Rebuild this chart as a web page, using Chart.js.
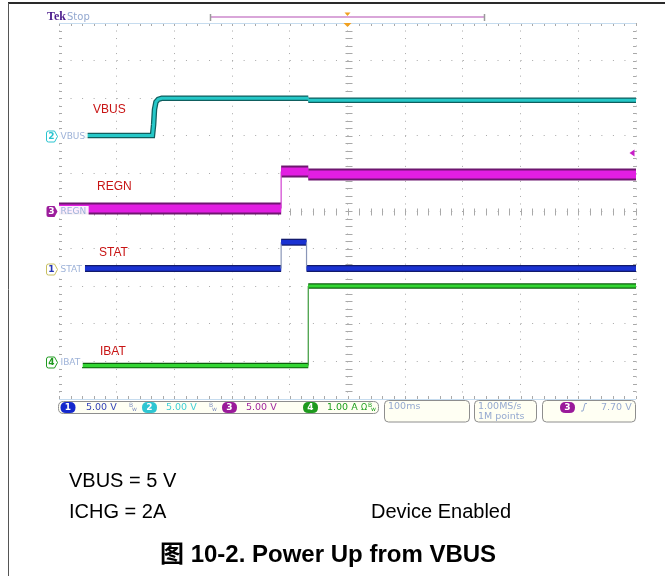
<!DOCTYPE html>
<html><head><meta charset="utf-8">
<script src="https://cdn.jsdelivr.net/npm/chart.js@4/dist/chart.umd.min.js"></script>
<style>html,body{margin:0;padding:0;background:#fff}canvas{display:block}</style>
</head><body>
<canvas id="c" width="665" height="576"></canvas>
<script>
// ---- axes: 100 ms/div time base (trigger at centre), 10 vertical divisions
const timeTicks = [-500, -400, -300, -200, -100, 0, 100, 200, 300, 400, 500];
const divTicks = [0, 1, 2, 3, 4, 5, 6, 7, 8, 9, 10];

// ---- CH2 VBUS (V)
const vbusT = [-455, -338, -336, -334.5, -332, -328, -322, -68, -68, 500];
const vbusV = [0.05, 0.05, 1.5, 3.5, 4.5, 4.85, 4.98, 4.98, 4.72, 4.72];
// ---- CH3 REGN (V)
const regnT = [-500, -115, -115, -68, -68, 500];
const regnV = [0.33, 0.33, 5.25, 5.25, 4.85, 4.85];
// ---- CH1 STAT (V)
const statT = [-455, -115, -115, -71, -71, 500];
const statV = [0, 0, 3.5, 3.5, 0, 0];
// ---- CH4 IBAT (A)
const ibatT = [-460, -68, -68, 500];
const ibatA = [-0.085, -0.085, 2.03, 2.03];

// channel settings (scale per division and ground position in divisions)
const chVoltsPerDiv = { y1: 5, y2: 5, y3: 5, y4: 1 };
const chGroundDiv = { y1: 3.47, y2: 7, y3: 5, y4: 0.975 };
const trigLevel = 7.70; // CH3 trigger level (V)

const isVert = c => c.p0.parsed.x === c.p1.parsed.x;
function trace(t, v, axis, outline, core, wOut, wCore, edge, ord) {
  const mk = () => t.map((x, i) => ({ x, y: v[i] }));
  const common = { yAxisID: axis, pointRadius: 0, tension: 0, borderCapStyle: 'butt', borderJoinStyle: 'miter' };
  return [
    Object.assign({}, common, { data: mk(), order: 20 + ord, borderColor: outline, borderWidth: wOut,
      segment: { borderColor: c => isVert(c) ? 'rgba(0,0,0,0)' : outline, borderWidth: c => isVert(c) ? 1 : wOut } }),
    Object.assign({}, common, { data: mk(), order: ord, borderColor: core, borderWidth: wCore,
      segment: { borderColor: c => isVert(c) ? edge : core, borderWidth: c => isVert(c) ? 1.2 : wCore } })
  ];
}
function chScale(id) {
  const g = chGroundDiv[id], s = chVoltsPerDiv[id];
  return { type: 'linear', display: false, min: -g * s, max: (10 - g) * s };
}

const datasets = [].concat(
  trace(regnT, regnV, 'y3', '#6e1670', '#e21ee2', 12, 8, '#d040d0', 1),
  trace(vbusT, vbusV, 'y2', '#0f5e5e', '#25c8c8', 5.5, 3, '#25c8c8', 2),
  trace(statT, statV, 'y1', '#121a6a', '#1a32d2', 7, 4.5, '#8a96b8', 3),
  trace(ibatT, ibatA, 'y4', '#0c600c', '#33d633', 5.5, 3.2, '#3a9a3a', 4)
);

function rr(ctx, x, y, w, h, r) {
  ctx.beginPath();
  ctx.moveTo(x + r, y); ctx.lineTo(x + w - r, y); ctx.quadraticCurveTo(x + w, y, x + w, y + r);
  ctx.lineTo(x + w, y + h - r); ctx.quadraticCurveTo(x + w, y + h, x + w - r, y + h);
  ctx.lineTo(x + r, y + h); ctx.quadraticCurveTo(x, y + h, x, y + h - r);
  ctx.lineTo(x, y + r); ctx.quadraticCurveTo(x, y, x + r, y); ctx.closePath();
}
function marker(ctx, x, y, num, filled, color, border) {
  ctx.beginPath();
  ctx.moveTo(x + 2, y - 5.5); ctx.lineTo(x + 8, y - 5.5); ctx.lineTo(x + 11, y); ctx.lineTo(x + 8, y + 5.5);
  ctx.lineTo(x + 2, y + 5.5); ctx.quadraticCurveTo(x, y + 5.5, x, y + 3.5); ctx.lineTo(x, y - 3.5);
  ctx.quadraticCurveTo(x, y - 5.5, x + 2, y - 5.5); ctx.closePath();
  ctx.lineWidth = 1;
  if (filled) { ctx.fillStyle = color; ctx.fill(); }
  else { ctx.fillStyle = '#fff'; ctx.fill(); ctx.strokeStyle = border || color; ctx.stroke(); }
  ctx.fillStyle = filled ? '#fff' : color;
  ctx.font = 'bold 9px "DejaVu Sans"'; ctx.textAlign = 'center'; ctx.textBaseline = 'middle';
  ctx.fillText(num, x + 5, y + 0.5);
}
function capsule(ctx, cx, cy, num, color) {
  rr(ctx, cx - 7.5, cy - 5.5, 15, 11, 5.5); ctx.fillStyle = color; ctx.fill();
  ctx.fillStyle = '#fff'; ctx.font = 'bold 9px "DejaVu Sans"'; ctx.textAlign = 'center'; ctx.textBaseline = 'middle';
  ctx.fillText(num, cx, cy + 0.5);
}
function bw(ctx, x, y, color) {
  ctx.fillStyle = color; ctx.textAlign = 'left'; ctx.textBaseline = 'middle';
  ctx.font = '6px "DejaVu Sans"'; ctx.fillText('B', x, y - 2); ctx.fillText('w', x + 3, y + 2);
}

const gratPlugin = {
  id: 'grat',
  beforeDraw(chart) {
    const ctx = chart.ctx; ctx.save(); ctx.fillStyle = '#fff'; ctx.fillRect(0, 0, chart.width, chart.height); ctx.restore();
  },
  beforeDatasetsDraw(chart) {
    const ctx = chart.ctx, xs = chart.scales.x, ds = chart.scales.div, a = chart.chartArea;
    ctx.save();
    ctx.strokeStyle = '#a9a9a9'; ctx.lineWidth = 1;
    const x0 = Math.round(xs.getPixelForValue(0)) + 0.5, y5 = Math.round(ds.getPixelForValue(5)) + 0.5;
    ctx.beginPath();
    for (let d = 0; d <= 10.001; d += 0.2) {
      const y = Math.round(ds.getPixelForValue(d)) + 0.5;
      ctx.moveTo(x0 - 3, y); ctx.lineTo(x0 + 4, y);
      ctx.moveTo(a.left, y); ctx.lineTo(a.left + 3, y);
      ctx.moveTo(a.right - 3, y); ctx.lineTo(a.right, y);
    }
    for (let t = -500; t <= 500.001; t += 20) {
      const x = Math.round(xs.getPixelForValue(t)) + 0.5;
      ctx.moveTo(x, y5 - 3); ctx.lineTo(x, y5 + 4);
      ctx.moveTo(x, a.top); ctx.lineTo(x, a.top + 3);
      ctx.moveTo(x, a.bottom - 3); ctx.lineTo(x, a.bottom);
    }
    ctx.stroke();
    ctx.strokeStyle = '#c6dcef'; ctx.beginPath();
    ctx.moveTo(a.left, Math.round(a.top) + 0.5); ctx.lineTo(a.right, Math.round(a.top) + 0.5);
    ctx.moveTo(a.left, Math.round(a.bottom) + 0.5); ctx.lineTo(a.right, Math.round(a.bottom) + 0.5);
    ctx.stroke();
    ctx.restore();
  },
  afterDraw(chart) {
    const ctx = chart.ctx, xs = chart.scales.x, a = chart.chartArea;
    ctx.save();
    // frame
    ctx.strokeStyle = '#2a2a2a'; ctx.lineWidth = 2; ctx.beginPath(); ctx.moveTo(8, 3); ctx.lineTo(665, 3); ctx.stroke();
    ctx.strokeStyle = '#555'; ctx.lineWidth = 1; ctx.beginPath(); ctx.moveTo(8.5, 3); ctx.lineTo(8.5, 576); ctx.stroke();
    // Tek Stop
    ctx.textBaseline = 'middle'; ctx.textAlign = 'left';
    ctx.font = 'bold 12px "Liberation Serif"'; ctx.fillStyle = '#4b1c8c'; ctx.fillText('Tek', 47, 17);
    ctx.font = '10px "DejaVu Sans"'; ctx.fillStyle = '#93a8d0'; ctx.fillText('Stop', 67, 17);
    // record view bar
    ctx.strokeStyle = '#d9a6d9'; ctx.lineWidth = 2; ctx.beginPath(); ctx.moveTo(210, 17); ctx.lineTo(485, 17); ctx.stroke();
    ctx.strokeStyle = '#9a9a9a'; ctx.lineWidth = 1.5; ctx.beginPath();
    ctx.moveTo(210.5, 14); ctx.lineTo(210.5, 21); ctx.moveTo(484.5, 14); ctx.lineTo(484.5, 21); ctx.stroke();
    const tx = xs.getPixelForValue(0);
    ctx.fillStyle = '#f0a020';
    ctx.beginPath(); ctx.moveTo(tx - 3, 12.5); ctx.lineTo(tx + 3, 12.5); ctx.lineTo(tx, 16); ctx.closePath(); ctx.fill();
    ctx.beginPath(); ctx.moveTo(tx - 4, a.top); ctx.lineTo(tx + 4, a.top); ctx.lineTo(tx, a.top + 4); ctx.closePath(); ctx.fill();
    // trigger level arrow (CH3)
    const ty = chart.scales.y3.getPixelForValue(trigLevel);
    ctx.fillStyle = '#c81ec8';
    ctx.beginPath(); ctx.moveTo(629.5, ty); ctx.lineTo(634.5, ty - 3.5); ctx.lineTo(634.5, ty + 3.5); ctx.closePath(); ctx.fill();
    // ground markers & channel labels
    const chans = [
      { id: 'y2', n: '2', filled: false, color: '#29c4d0', label: 'VBUS', red: 'VBUS', rx: 93, ry: 110 },
      { id: 'y3', n: '3', filled: true, color: '#9c1c9c', label: 'REGN', red: 'REGN', rx: 97, ry: 187 },
      { id: 'y1', n: '1', filled: false, color: '#2535b5', border: '#c8c060', label: 'STAT', red: 'STAT', rx: 99, ry: 253 },
      { id: 'y4', n: '4', filled: false, color: '#1f9a1f', label: 'IBAT', red: 'IBAT', rx: 100, ry: 352 }
    ];
    chans.forEach(c => {
      const gy = Math.round(chart.scales[c.id].getPixelForValue(0));
      marker(ctx, 46.5, gy + 0.5, c.n, c.filled, c.color, c.border);
      ctx.font = '9px "DejaVu Sans"'; ctx.textAlign = 'left'; ctx.textBaseline = 'middle';
      const w = ctx.measureText(c.label).width;
      ctx.fillStyle = 'rgba(255,255,255,0.92)'; ctx.fillRect(59, gy - 5, w + 4, 10);
      ctx.fillStyle = '#9db2d8'; ctx.fillText(c.label, 60.5, gy + 0.5);
      ctx.font = '12px "Liberation Sans"'; ctx.fillStyle = '#c81414';
      ctx.fillText(c.red, c.rx, c.ry);
    });
    // status bar
    ctx.lineWidth = 1; ctx.strokeStyle = '#8e8e8e';
    rr(ctx, 58.5, 401.5, 320, 12, 5); ctx.fillStyle = '#fffff3'; ctx.fill(); ctx.stroke();
    [[384.5, 469.5], [474.5, 536.5], [542.5, 635.5]].forEach(b => {
      rr(ctx, b[0], 400.5, b[1] - b[0], 21.5, 4); ctx.fillStyle = '#fffff3'; ctx.fill(); ctx.stroke();
    });
    const sy = 407.5;
    capsule(ctx, 68, sy, '1', '#1428cc');
    capsule(ctx, 149.5, sy, '2', '#2ec6d2');
    capsule(ctx, 229.5, sy, '3', '#9a1a9a');
    capsule(ctx, 310.5, sy, '4', '#1e9a1e');
    capsule(ctx, 567.5, sy, '3', '#9a1a9a');
    ctx.font = '9.5px "DejaVu Sans"'; ctx.textAlign = 'left'; ctx.textBaseline = 'middle';
    ctx.fillStyle = '#3444b8'; ctx.fillText('5.00 V', 86, sy);
    ctx.fillStyle = '#40cfd6'; ctx.fillText('5.00 V', 166, sy);
    ctx.fillStyle = '#a028a0'; ctx.fillText('5.00 V', 246, sy);
    ctx.fillStyle = '#20a020'; ctx.fillText('1.00 A', 327, sy);
    ctx.fillStyle = '#20a020'; ctx.font = '8px "DejaVu Sans"'; ctx.fillText('Ω', 361, sy);
    bw(ctx, 129, sy, '#8090c0'); bw(ctx, 209, sy, '#8090c0'); bw(ctx, 368, sy, '#20a020');
    ctx.font = '9.5px "DejaVu Sans"'; ctx.fillStyle = '#95a9d0';
    ctx.fillText('100ms', 388, 407);
    ctx.fillText('1.00MS/s', 478, 406.5); ctx.fillText('1M points', 478, 416.5);
    ctx.fillText('7.70 V', 601, sy);
    ctx.strokeStyle = '#95a9d0'; ctx.lineWidth = 1; ctx.beginPath();
    ctx.moveTo(581, 411); ctx.lineTo(583, 411); ctx.lineTo(585, 403.5); ctx.lineTo(587, 403.5); ctx.stroke();
    // captions
    ctx.fillStyle = '#000'; ctx.textAlign = 'left'; ctx.textBaseline = 'middle';
    ctx.font = '20px "Liberation Sans"';
    ctx.fillText('VBUS = 5 V', 69, 481);
    ctx.fillText('ICHG = 2A', 69, 512);
    ctx.fillText('Device Enabled', 371, 512);
    ctx.font = 'bold 24px "Liberation Sans", "Noto Sans CJK SC"';
    ctx.fillText('图 10-2. Power Up from VBUS', 160, 555);
    ctx.restore();
  }
};

new Chart(document.getElementById('c'), {
  type: 'line',
  data: { datasets },
  options: {
    responsive: false, animation: false, events: [],
    layout: { padding: { left: 59, top: 23, right: 29, bottom: 177 } },
    plugins: { legend: { display: false }, tooltip: { enabled: false }, title: { display: false } },
    scales: {
      x: { type: 'linear', min: -500, max: 500,
        afterBuildTicks: s => { s.ticks = timeTicks.map(v => ({ value: v })); },
        ticks: { display: false }, grid: { color: '#a8a8a8', drawTicks: false, lineWidth: 1 },
        border: { display: false, dash: [1, 6.52] } },
      div: { type: 'linear', position: 'left', min: 0, max: 10,
        afterBuildTicks: s => { s.ticks = divTicks.map(v => ({ value: v })); },
        ticks: { display: false }, grid: { color: '#a8a8a8', drawTicks: false, lineWidth: 1 },
        border: { display: false, dash: [1, 10.54] } },
      y1: chScale('y1'), y2: chScale('y2'), y3: chScale('y3'), y4: chScale('y4')
    }
  },
  plugins: [gratPlugin]
});
</script>
</body></html>
